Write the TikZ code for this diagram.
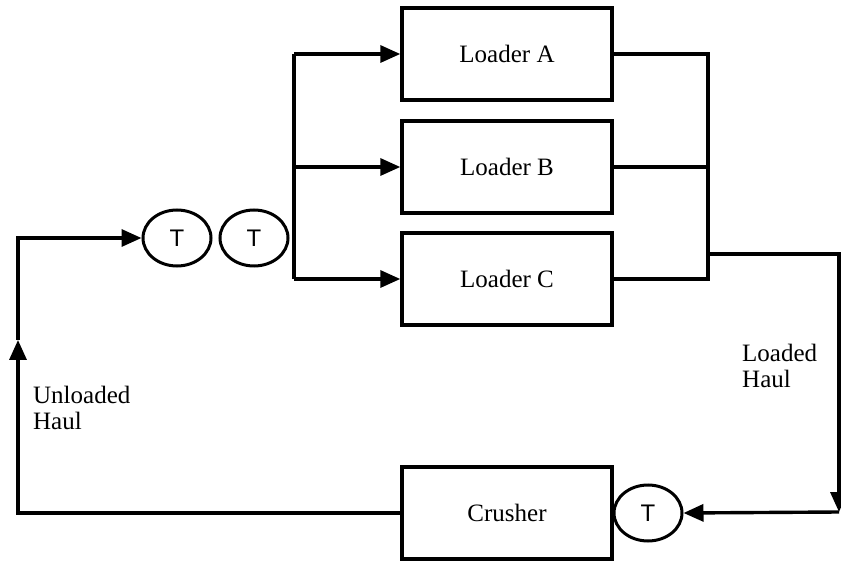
\documentclass[tikz,border=0pt]{standalone}
\usepackage{fontspec}
\setmainfont{Liberation Serif}
\newfontfamily\tfont{Liberation Sans}
\usetikzlibrary{arrows.meta,shapes.geometric}

\tikzset{
  wire/.style={line width=3.4pt},
  tip/.style={-{Triangle[length=20pt,width=17pt]}},
  unit/.style={draw,line width=3.4pt,minimum width=210pt,minimum height=92pt,inner sep=0pt,font=\fontsize{25}{27}\selectfont},
  truck/.style={draw,ellipse,line width=3pt,minimum width=68pt,minimum height=56pt,inner sep=0pt,font=\tfont\fontsize{24}{26}\selectfont},
  note/.style={align=left,anchor=west,inner sep=0pt,font=\fontsize{25}{26}\selectfont}
}

\begin{document}
\begin{tikzpicture}[x=1pt,y=1pt,yscale=-1]
\useasboundingbox (0,0) rectangle (841,561);

%Loaders and crusher
\node[unit] (la) at (507,54) {Loader A};
\node[unit] (lb) at (507,167) {Loader B};
\node[unit] (lc) at (507,279) {Loader C};
\node[unit] (cr) at (507,513) {Crusher};

%Trucks waiting
\node[truck] (t1) at (177,238) {T};
\node[truck] (t2) at (254,238) {T};
\node[truck] (t3) at (648,513) {T};

%Bus points
\coordinate (fork) at (294,167);
\coordinate (join) at (708,167);
\coordinate (out) at (708,254);
\coordinate (dump) at (839,512);
\coordinate (back) at (18,340);

%Split to the loaders
\draw[wire] (la.west -| fork) -- (lc.west -| fork);
\draw[wire,tip] (la.west -| fork) -- (la.west);
\draw[wire,tip] (fork) -- (lb.west);
\draw[wire,tip] (lc.west -| fork) -- (lc.west);

%Join after the loaders
\draw[wire] (la.east) -| (join) |- (lc.east);
\draw[wire] (lb.east) -- (join);

%Loaded haul
\draw[wire,tip] (out) -| (dump);
\draw[wire,tip] (dump) -- (t3.east);

%Unloaded haul
\draw[wire,tip] (cr.west) -| (back);
\draw[wire,tip] (back) |- (t1.west);

% Text Node
\node[note] (ul) at (33,408) {Unloaded\\Haul};
% Text Node
\node[note] (ld) at (742,366) {Loaded\\Haul};
\end{tikzpicture}
\end{document}
